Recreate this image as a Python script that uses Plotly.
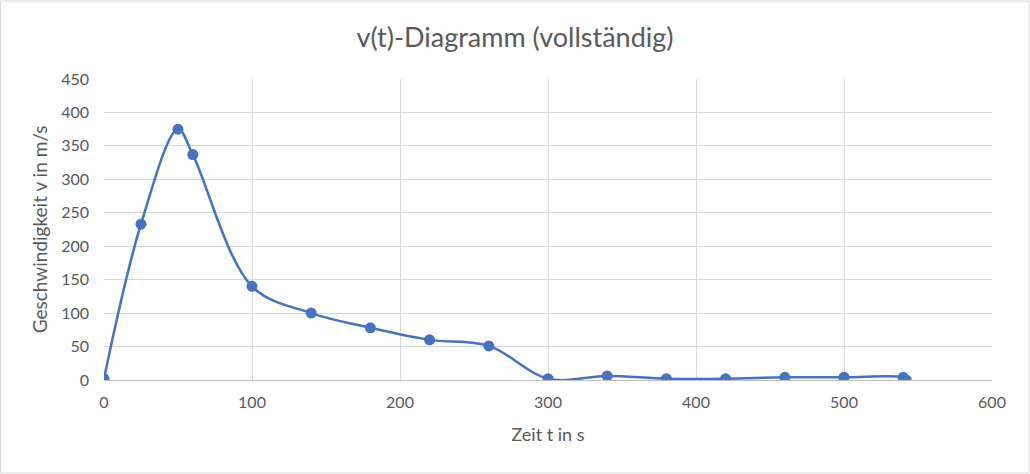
import plotly.graph_objects as go

# Messwerte (Zeit in s, Geschwindigkeit in m/s)
zeit_t = [0, 25, 50, 60, 100, 140, 180, 220, 260, 300, 340, 380, 420, 460, 500, 540, 542]
geschw_v = [2, 233, 375, 337, 140, 100, 78, 60, 51, 2, 6, 2, 2, 4, 4, 4, 0]

x_ticks = [0, 100, 200, 300, 400, 500, 600]
y_ticks = [0, 50, 100, 150, 200, 250, 300, 350, 400, 450]

blau = "#4472C4"
grau_text = "#595959"

fig = go.Figure()
fig.add_trace(go.Scatter(
    x=zeit_t, y=geschw_v,
    mode="lines+markers",
    line=dict(color=blau, width=2.5, shape="spline", smoothing=1.0),
    marker=dict(color=blau, size=11),
    showlegend=False,
))

fig.update_layout(
    width=1030, height=474,
    margin=dict(l=104, r=38, t=79, b=94),
    paper_bgcolor="white", plot_bgcolor="white",
    font=dict(family="Lato", color=grau_text, size=16),
    title=dict(text="v(t)-Diagramm (vollständig)", x=0.5, xanchor="center",
               y=0.92, yanchor="middle", font=dict(size=27, color=grau_text)),
)
fig.update_xaxes(
    range=[0, 600], tickvals=x_ticks, showgrid=True, gridcolor="#D9D9D9", gridwidth=1,
    zeroline=False, showline=True, linecolor="#BFBFBF", linewidth=1,
    ticks="", ticklabelstandoff=8,
    title=dict(text="Zeit t in s", standoff=18, font=dict(size=18)),
)
fig.update_yaxes(
    range=[0, 450], tickvals=y_ticks, showgrid=True, gridcolor="#D9D9D9", gridwidth=1,
    zeroline=False, showline=False, ticks="", ticklabelstandoff=14,
    title=dict(text="Geschwindigkeit v in m/s", standoff=8, font=dict(size=19)),
)
# Rahmen um das Diagramm
fig.add_shape(type="rect", xref="paper", yref="paper",
              x0=-0.1166, x1=1.0417, y0=-0.309, y1=1.259,
              line=dict(color="#D9D9D9", width=1), layer="below")

fig.write_html("out.html", config={"displayModeBar": False},
               post_script="document.body.style.margin='0';")
